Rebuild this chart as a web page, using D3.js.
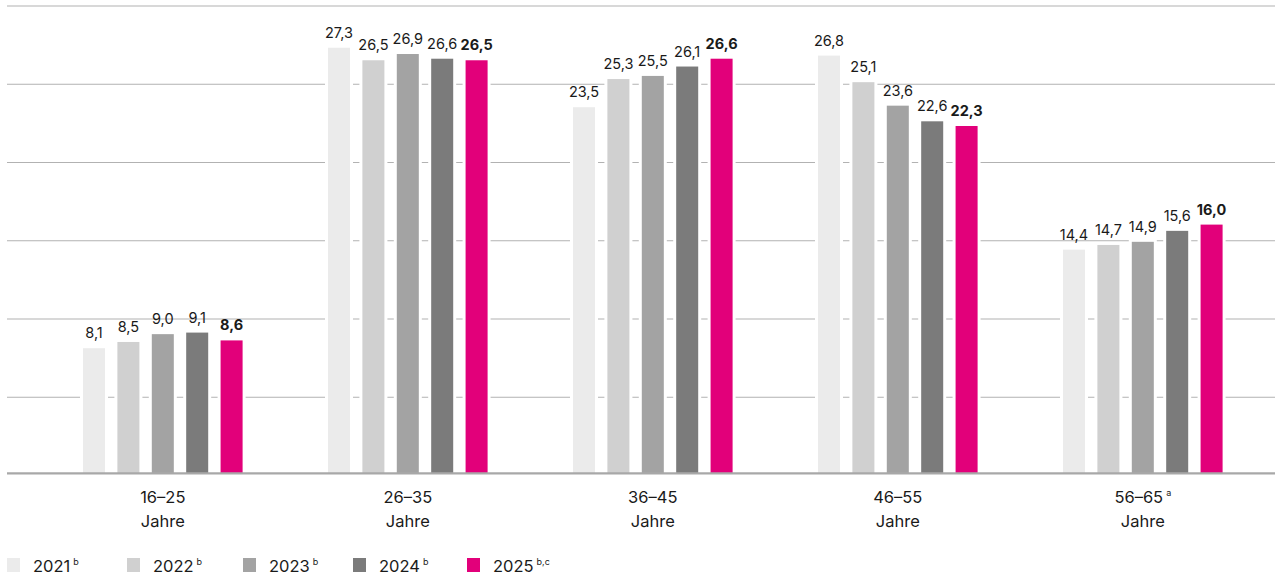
<!DOCTYPE html>
<html>
<head>
<meta charset="utf-8">
<script src="https://cdn.jsdelivr.net/npm/d3@7"></script>
<style>
  html, body { margin: 0; padding: 0; background: #fff; }
  svg { display: block; font-family: Inter, "Noto Sans", sans-serif; }
</style>
</head>
<body>
<svg id="chart" width="1275" height="576"></svg>
<script>
// ---- data ----
const categories = ["16–25", "26–35", "36–45", "46–55", "56–65"];
const categoryNotes = ["", "", "", "", "a"];
const series = ["2021", "2022", "2023", "2024", "2025"];
const seriesNotes = ["b", "b", "b", "b", "b,c"];
const values2021 = [8.1, 27.3, 23.5, 26.8, 14.4];
const values2022 = [8.5, 26.5, 25.3, 25.1, 14.7];
const values2023 = [9.0, 26.9, 25.5, 23.6, 14.9];
const values2024 = [9.1, 26.6, 26.1, 22.6, 15.6];
const values2025 = [8.6, 26.5, 26.6, 22.3, 16.0];
const gridTicks = [5, 10, 15, 20, 25, 30];

// ---- styles / layout ----
const colors = ["#ebebeb", "#d0d0d0", "#a3a3a3", "#7b7b7b", "#e2007a"];
const legendX = [7, 127, 243, 353, 467];
const allValues = [values2021, values2022, values2023, values2024, values2025];

const svg = d3.select("#chart");
const W = 1275;
const baseY = 473.3;

const x0 = d3.scaleBand().domain(categories)
  .range([40.3, 1265.3]).paddingInner(0.3486).paddingOuter(0.1743);
const x1 = d3.scaleBand().domain(series)
  .range([0, x0.bandwidth()]).paddingInner(0.36).paddingOuter(0);
const y = d3.scaleLinear().domain([0, 30]).range([475, 5.5]);

// gridlines
const grid = d3.axisLeft(y).tickValues(gridTicks).tickSize(-(W - 7)).tickFormat("");
const gg = svg.append("g").attr("transform", "translate(7,0)").call(grid);
gg.select(".domain").remove();
gg.selectAll(".tick line").attr("stroke", "#b2b2b2").attr("stroke-width", 1.2);

// bars
const rows = [];
categories.forEach((c, ci) => {
  series.forEach((s, si) => {
    rows.push({ cat: c, ser: s, si: si, v: allValues[si][ci] });
  });
});

const groups = svg.append("g");
// white halo behind bars to cut gridlines
groups.selectAll("rect.halo").data(rows).join("rect")
  .attr("class", "halo")
  .attr("x", d => x0(d.cat) + x1(d.ser) - 3)
  .attr("width", x1.bandwidth() + 6)
  .attr("y", d => y(d.v) - 3)
  .attr("height", d => baseY - y(d.v) + 3)
  .attr("fill", "#fff");

groups.selectAll("rect.bar").data(rows).join("rect")
  .attr("class", "bar")
  .attr("x", d => x0(d.cat) + x1(d.ser))
  .attr("width", x1.bandwidth())
  .attr("y", d => y(d.v))
  .attr("height", d => baseY - y(d.v))
  .attr("fill", d => colors[d.si]);

// value labels
groups.selectAll("text.val").data(rows).join("text")
  .attr("class", "val")
  .attr("x", d => x0(d.cat) + x1(d.ser) + x1.bandwidth() / 2)
  .attr("y", d => y(d.v) - 10)
  .attr("text-anchor", "middle")
  .attr("font-size", 14.5)
  .attr("font-weight", d => d.si === 4 ? 700 : 400)
  .attr("fill", "#1a1a1a")
  .text(d => d3.format(".1f")(d.v).replace(".", ","));

// baseline
const xAxis = d3.axisBottom(x0).tickSize(0).tickFormat("");
const ax = svg.append("g").attr("transform", "translate(0," + baseY + ")").call(xAxis);
ax.select(".domain").attr("d", "M7,0H" + W).attr("stroke", "#a8a8a8").attr("stroke-width", 2.2);

// category labels
categories.forEach((c, ci) => {
  const cx = x0(c) + x0.bandwidth() / 2;
  const t = svg.append("text").attr("x", cx).attr("y", 503)
    .attr("text-anchor", "middle").attr("font-size", 16.5).attr("fill", "#1a1a1a");
  t.append("tspan").text(c);
  if (categoryNotes[ci]) {
    t.append("tspan").attr("dx", 3).attr("dy", -7).attr("font-size", 9).text(categoryNotes[ci]);
  }
  svg.append("text").attr("x", cx).attr("y", 527)
    .attr("text-anchor", "middle").attr("font-size", 16.5).attr("fill", "#1a1a1a")
    .text("Jahre");
});

// legend
const lg = svg.append("g");
series.forEach((s, si) => {
  const g = lg.append("g").attr("transform", "translate(" + legendX[si] + ",0)");
  g.append("rect").attr("x", 0).attr("y", 558).attr("width", 13).attr("height", 14)
    .attr("fill", colors[si]);
  const t = g.append("text").attr("x", 26).attr("y", 572)
    .attr("font-size", 16.5).attr("fill", "#1a1a1a");
  t.append("tspan").text(s);
  t.append("tspan").attr("dx", 3).attr("dy", -7).attr("font-size", 9).text(seriesNotes[si]);
});
</script>
</body>
</html>
